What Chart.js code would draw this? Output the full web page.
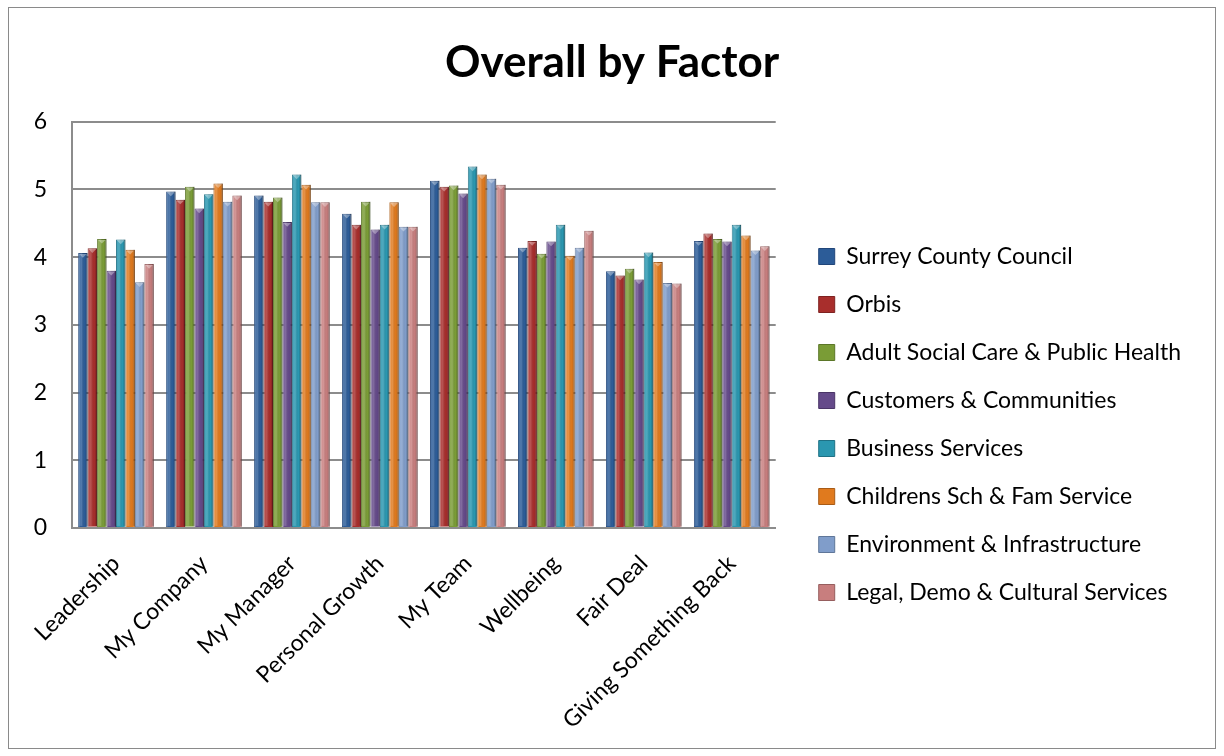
<!DOCTYPE html>
<html>
<head>
<meta charset="utf-8">
<script src="https://cdn.jsdelivr.net/npm/chart.js@4.4.1/dist/chart.umd.min.js"></script>
<style>
  html, body { margin: 0; padding: 0; background: #fff; }
  #wrap { width: 1224px; height: 756px; }
</style>
</head>
<body>
<div id="wrap"><canvas id="grafico" width="1224" height="756"></canvas></div>
<script>
// Categorias y valores
const categorias = ['Leadership', 'My Company', 'My Manager', 'Personal Growth', 'My Team', 'Wellbeing', 'Fair Deal', 'Giving Something Back'];

const surrey      = [4.06, 4.97, 4.91, 4.64, 5.13, 4.14, 3.79, 4.24];
const orbis       = [4.13, 4.85, 4.82, 4.48, 5.04, 4.24, 3.73, 4.35];
const adultSocial = [4.27, 5.04, 4.88, 4.82, 5.06, 4.05, 3.83, 4.27];
const customers   = [3.80, 4.72, 4.52, 4.41, 4.94, 4.23, 3.67, 4.23];
const business    = [4.26, 4.93, 5.22, 4.48, 5.34, 4.48, 4.07, 4.48];
const childrens   = [4.11, 5.09, 5.07, 4.81, 5.22, 4.02, 3.93, 4.32];
const environment = [3.63, 4.82, 4.81, 4.45, 5.16, 4.14, 3.62, 4.10];
const legal       = [3.90, 4.91, 4.81, 4.45, 5.07, 4.39, 3.61, 4.16];

const ticksY = [0, 1, 2, 3, 4, 5, 6];

const fuente = 'Lato, "Liberation Sans", sans-serif';

// Fondo y borde exterior del grafico
const bordeExterior = {
  id: 'bordeExterior',
  beforeDraw(chart) {
    const c = chart.ctx;
    c.save();
    c.fillStyle = '#fff';
    c.fillRect(0, 0, chart.width, chart.height);
    c.strokeStyle = '#8a8a8a';
    c.lineWidth = 1;
    c.strokeRect(8.5, 7.5, 1207, 741);
    c.restore();
  }
};

// Sombreado tipo bisel sobre cada barra (usa la geometria de las barras)
const bisel = {
  id: 'bisel',
  afterDatasetsDraw(chart) {
    const c = chart.ctx;
    c.save();
    chart.data.datasets.forEach((ds, i) => {
      chart.getDatasetMeta(i).data.forEach(bar => {
        const x0 = bar.x - bar.width / 2;
        const x1 = bar.x + bar.width / 2;
        const g = c.createLinearGradient(x0, 0, x1, 0);
        g.addColorStop(0, 'rgba(255,255,255,0.10)');
        g.addColorStop(0.35, 'rgba(255,255,255,0.18)');
        g.addColorStop(0.7, 'rgba(0,0,0,0)');
        g.addColorStop(1, 'rgba(0,0,0,0.30)');
        c.fillStyle = g;
        c.fillRect(x0, bar.y, bar.width, bar.base - bar.y - 1);
        // pequeño triangulo claro en la parte superior
        c.fillStyle = 'rgba(255,255,255,0.35)';
        c.beginPath();
        c.moveTo(x0 + 1, bar.y + 1);
        c.lineTo(x1 - 1, bar.y + 1);
        c.lineTo(bar.x, bar.y + bar.width / 2);
        c.closePath();
        c.fill();
      });
    });
    c.restore();
  }
};

const serie = (label, data, color, borde) => ({
  label, data,
  backgroundColor: color,
  borderColor: borde,
  borderWidth: 1,
  barPercentage: 1,
  categoryPercentage: 0.86,
  yAxisID: 'y'
});

new Chart(document.getElementById('grafico').getContext('2d'), {
  type: 'bar',
  data: {
    labels: categorias,
    datasets: [
      serie('Surrey County Council', surrey, '#2c5c98', '#21467a'),
      serie('Orbis', orbis, '#a82e2c', '#7e2221'),
      serie('Adult Social Care & Public Health', adultSocial, '#7a9c36', '#5b7628'),
      serie('Customers & Communities', customers, '#654a8a', '#4a3567'),
      serie('Business Services', business, '#2a97b0', '#1f7185'),
      serie('Childrens Sch & Fam Service', childrens, '#e07a1e', '#a85b16'),
      serie('Environment & Infrastructure', environment, '#809dca', '#5f7699'),
      serie('Legal, Demo & Cultural Services', legal, '#c87e7e', '#965e5e')
    ]
  },
  options: {
    responsive: false,
    animation: false,
    layout: { padding: { top: 20, left: 33, right: 33, bottom: 0 } },
    scales: {
      x: {
        grid: { display: false, drawTicks: false },
        border: { color: '#8c8c8c', width: 2 },
        ticks: {
          color: '#000',
          font: { family: fuente, size: 23 },
          maxRotation: 45,
          minRotation: 45,
          padding: 22
        }
      },
      y: {
        min: 0,
        max: 6,
        afterBuildTicks: axis => { axis.ticks = ticksY.map(v => ({ value: v })); },
        afterFit: s => { s.width = 39; },
        grid: { color: '#8c8c8c', lineWidth: 2, drawTicks: false },
        border: { color: '#8c8c8c', width: 2 },
        ticks: {
          color: '#000',
          font: { family: fuente, size: 23 },
          padding: 25
        }
      },
      // eje vacio a la derecha, solo para dejar hueco antes de la leyenda
      hueco: {
        position: 'right',
        display: true,
        grid: { display: false, drawTicks: false },
        border: { display: false },
        ticks: { display: false },
        afterFit: s => { s.width = 18; }
      }
    },
    plugins: {
      title: {
        display: true,
        text: 'Overall by Factor',
        color: '#000',
        font: { family: fuente, size: 44, weight: 'bold' },
        padding: { top: 16, bottom: 33 }
      },
      legend: {
        position: 'right',
        align: 'start',
        maxWidth: 520,
        title: {
          display: true,
          text: ' ',
          font: { size: 10 },
          padding: 94
        },
        labels: {
          color: '#000',
          font: { family: fuente, size: 23 },
          boxWidth: 16,
          boxHeight: 16,
          padding: 25
        }
      },
      tooltip: { enabled: false }
    }
  },
  plugins: [bordeExterior, bisel]
});
</script>
</body>
</html>
